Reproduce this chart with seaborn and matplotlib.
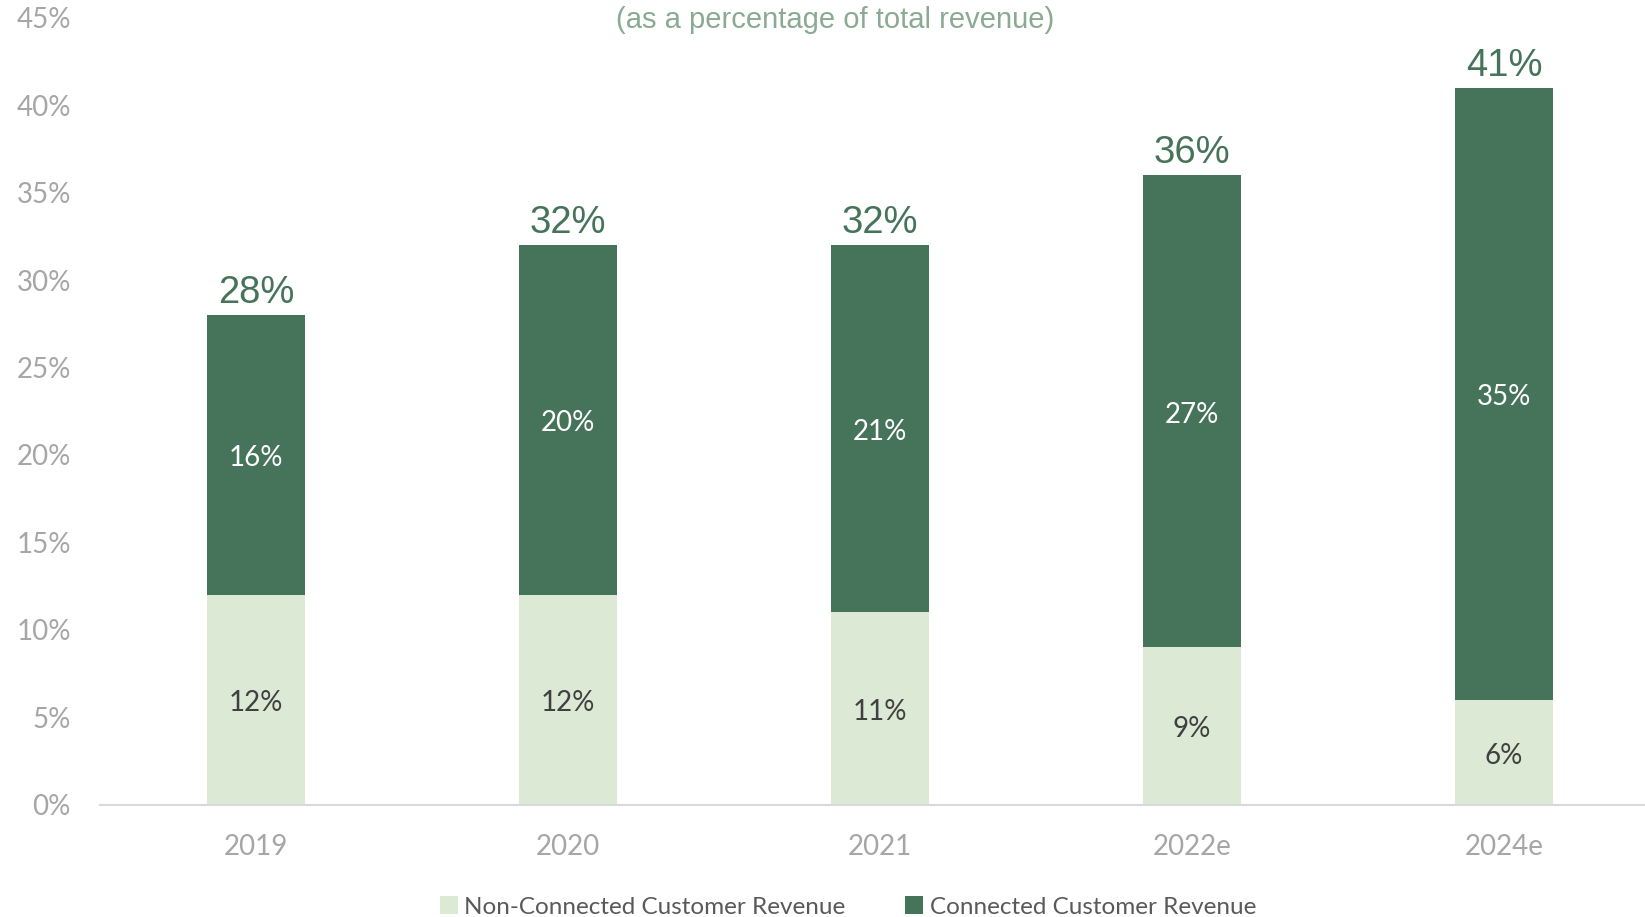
import matplotlib
matplotlib.use("Agg")
import matplotlib.pyplot as plt
from matplotlib.patches import Patch
import seaborn as sns
import pandas as pd

# Revenue share data (% of total revenue)
years = ["2019", "2020", "2021", "2022e", "2024e"]
non_connected = [12, 12, 11, 9, 6]
connected = [16, 20, 21, 27, 35]
yticks = [0, 5, 10, 15, 20, 25, 30, 35, 40, 45]

DARK = "#46745A"
LIGHT = "#DCE9D5"
TICK_GREY = "#A6A6A6"

totals = [a + b for a, b in zip(non_connected, connected)]
df = pd.DataFrame({"year": years, "non_connected": non_connected,
                   "connected": connected, "total": totals})

sns.set_theme(style="white")
plt.rcParams["font.family"] = ["Lato", "DejaVu Sans"]

fig = plt.figure(figsize=(16.45, 9.17), dpi=100)
ax = fig.add_axes([100 / 1645, (917 - 804.5) / 917, 1560 / 1645, (804.5 - 17.8) / 917])

# Stacked bars: full total in dark green, bottom segment overlaid in light green
sns.barplot(data=df, x="year", y="total", color=DARK, saturation=1,
            width=0.315, ax=ax, linewidth=0)
sns.barplot(data=df, x="year", y="non_connected", color=LIGHT, saturation=1,
            width=0.315, ax=ax, linewidth=0)

ax.set_xlim(-0.5, 4.5)
ax.set_ylim(0, 45)
ax.set_yticks(yticks)
ax.set_yticklabels([f"{v}%" for v in yticks])
ax.set_xlabel("")
ax.set_ylabel("")
ax.tick_params(axis="y", length=0, pad=21, labelsize=20, labelcolor=TICK_GREY)
ax.tick_params(axis="x", length=0, pad=21, labelsize=20, labelcolor=TICK_GREY)

for side in ["top", "right", "left"]:
    ax.spines[side].set_visible(False)
ax.spines["bottom"].set_color("#D9D9D9")
ax.spines["bottom"].set_linewidth(1.5)
ax.spines["bottom"].set_clip_on(False)

# Segment labels and totals above each bar
for i, (nc, c, t) in enumerate(zip(non_connected, connected, totals)):
    ax.annotate(f"{nc}%", xy=(i, nc / 2), xytext=(0, -2.5), textcoords="offset points",
                ha="center", va="center", fontsize=20, color="#404040")
    ax.annotate(f"{c}%", xy=(i, nc + c / 2), xytext=(0, -2.5), textcoords="offset points",
                ha="center", va="center", fontsize=20, color="white")
    ax.annotate(f"{t}%", xy=(i, t), xytext=(0, 3), textcoords="offset points",
                ha="center", va="bottom", fontsize=27.5, color=DARK,
                family=["Liberation Sans", "DejaVu Sans"])

fig.text(835 / 1645, 1 - 20 / 917, "(as a percentage of total revenue)",
         ha="center", va="center", fontsize=21, color="#8AAA92",
         family=["Liberation Sans", "DejaVu Sans"])

handles = [Patch(facecolor=LIGHT, edgecolor="none"),
           Patch(facecolor=DARK, edgecolor="none")]
fig.legend(handles, ["Non-Connected Customer Revenue", "Connected Customer Revenue"],
           loc="center", bbox_to_anchor=(848 / 1645, 1 - 907 / 917), ncol=2,
           frameon=False, fontsize=17.5, labelcolor="#595959",
           handlelength=0.75, handleheight=0.75, handletextpad=0.25,
           columnspacing=2.45)

fig.savefig("out.png", dpi=100)
